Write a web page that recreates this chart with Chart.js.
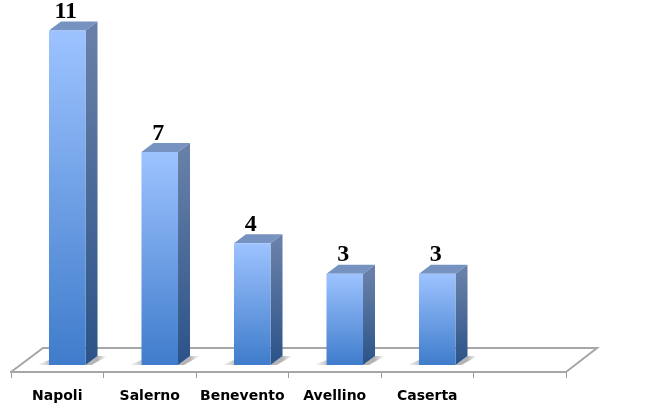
<!DOCTYPE html>
<html>
<head>
<meta charset="utf-8">
<style>
  html, body { margin: 0; padding: 0; background: #fff; }
  canvas { display: block; }
</style>
<script src="https://cdn.jsdelivr.net/npm/chart.js@4"></script>
</head>
<body>
<canvas id="myChart" width="650" height="410"></canvas>
<script>
var categories = ["Napoli", "Salerno", "Benevento", "Avellino", "Caserta", ""];
var values = [11, 7, 4, 3, 3];

var ctx = document.getElementById("myChart");

// the picture is a fake 3d column: bars sit a bit behind the axis line
var shiftX = 10, depthX = 12, depthY = 9;

function shape(c, pts, fill) {
  c.beginPath();
  c.moveTo(pts[0][0], pts[0][1]);
  for (var i = 1; i < pts.length; i++) c.lineTo(pts[i][0], pts[i][1]);
  c.closePath();
  c.fillStyle = fill;
  c.fill();
}

var fake3d = {
  id: "fake3d",
  beforeDatasetsDraw: function(chart) {
    var c = chart.ctx, area = chart.chartArea;
    // floor
    c.save();
    c.strokeStyle = "#a6a6a6";
    c.lineWidth = 2;
    c.beginPath();
    c.moveTo(area.left, area.bottom);
    c.lineTo(area.left + 32, area.bottom - 24);
    c.lineTo(area.right + 31, area.bottom - 24);
    c.lineTo(area.right, area.bottom);
    c.stroke();
    // little shadows either side of each bar foot
    chart.getDatasetMeta(0).data.forEach(function(bar) {
      var half = bar.width / 2, x = bar.x + shiftX, y = bar.base;
      var g = c.createLinearGradient(x - half - 12, 0, x - half, 0);
      g.addColorStop(0, "rgba(150,150,150,0)");
      g.addColorStop(1, "rgba(150,150,150,0.55)");
      shape(c, [[x - half - 12, y], [x - half, y - 5], [x - half, y]], g);
      var r = c.createLinearGradient(x + half + depthX, 0, x + half + depthX + 10, 0);
      r.addColorStop(0, "rgba(130,130,130,0.6)");
      r.addColorStop(1, "rgba(150,150,150,0)");
      shape(c, [[x + half, y], [x + half + depthX, y - depthY], [x + half + depthX + 10, y - depthY], [x + half + 6, y]], r);
    });
    c.restore();
  },
  beforeDatasetDraw: function(chart) {
    var c = chart.ctx;
    c.save();
    c.translate(shiftX, 0);
    chart.getDatasetMeta(0).data.forEach(function(bar) {
      var l = bar.x - bar.width / 2, r = bar.x + bar.width / 2, t = bar.y, b = bar.base;
      var side = c.createLinearGradient(0, t, 0, b);
      side.addColorStop(0, "#6880a8");
      side.addColorStop(1, "#2b5288");
      shape(c, [[r, t], [r + depthX, t - depthY], [r + depthX, b - depthY], [r, b]], side);
      shape(c, [[l, t], [l + depthX, t - depthY], [r + depthX, t - depthY], [r, t]], "#7592c0");
    });
  },
  afterDatasetDraw: function(chart) {
    chart.ctx.restore();
  },
  afterDatasetsDraw: function(chart) {
    var c = chart.ctx;
    c.save();
    c.fillStyle = "#000";
    c.font = "bold 24px 'Liberation Serif'";
    c.textAlign = "center";
    c.textBaseline = "alphabetic";
    chart.getDatasetMeta(0).data.forEach(function(bar, i) {
      c.fillText(values[i], bar.x + shiftX - 1.5, bar.y - depthY - 3.5);
    });
    c.restore();
  }
};

new Chart(ctx, {
  type: "bar",
  data: {
    labels: categories,
    datasets: [{
      data: values,
      barPercentage: 0.395,
      categoryPercentage: 1,
      backgroundColor: function(context) {
        var chart = context.chart;
        if (!chart.chartArea || context.raw === undefined) return "#6fa0e6";
        var y = chart.scales.y;
        var g = chart.ctx.createLinearGradient(0, y.getPixelForValue(context.raw), 0, y.getPixelForValue(0));
        g.addColorStop(0, "#9dc3ff");
        g.addColorStop(1, "#3f7ccb");
        return g;
      }
    }]
  },
  options: {
    responsive: false,
    animation: false,
    layout: { padding: { left: 11, right: 84, top: 3, bottom: 0 } },
    plugins: { legend: { display: false }, tooltip: { enabled: false } },
    scales: {
      x: {
        afterFit: function(axis) { axis.height = 38; },
        grid: { drawOnChartArea: false, color: "#9a9a9a", tickLength: 6 },
        border: { color: "#a6a6a6", width: 2 },
        ticks: {
          color: "#000",
          padding: 10,
          maxRotation: 0,
          autoSkip: false,
          font: { family: "'DejaVu Sans'", weight: "bold", size: 14 }
        }
      },
      y: {
        display: false,
        min: -0.23,
        max: 11.9
      }
    }
  },
  plugins: [fake3d]
});
</script>
</body>
</html>
